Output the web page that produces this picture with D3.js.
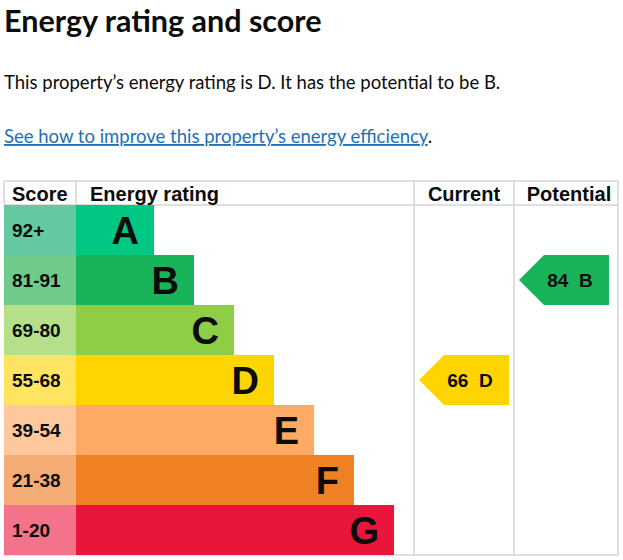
<!DOCTYPE html>
<html>
<head>
<meta charset="utf-8">
<script src="https://cdn.jsdelivr.net/npm/d3@7"></script>
<style>
  body { margin: 0; background: #fff; }
  svg { display: block; }
</style>
</head>
<body>
<svg id="chart"></svg>
<script>
// rating bands, top (best) to bottom
let ratings = ["A", "B", "C", "D", "E", "F", "G"]
let scoreRanges = ["92+", "81-91", "69-80", "55-68", "39-54", "21-38", "1-20"]
let lowerBounds = [92, 81, 69, 55, 39, 21, 1]
let barColors = ["#00c781", "#19b459", "#8dce46", "#ffd500", "#fcaa65", "#ef8023", "#e9153b"]
let scoreColors = ["#64c8a0", "#6fcb8b", "#b6df89", "#ffe462", "#fec89c", "#f5ac74", "#f3738a"]
let columns = ["Score", "Energy rating", "Current", "Potential"]
let currentScore = 66
let potentialScore = 84

let svgWidth = 623,
    svgHeight = 560

let svg = d3.select('#chart')
    .attr('width', svgWidth)
    .attr('height', svgHeight)

let font = "'Liberation Sans', Arial, sans-serif"
let headFont = "Lato, 'Noto Sans', sans-serif"

// HEADING + INTRO TEXT
svg.append('text')
    .attr('x', 4).attr('y', 32)
    .attr('font-family', headFont)
    .attr('font-weight', 700)
    .attr('font-size', 30.5)
    .attr('fill', '#0b0c0c')
    .text('Energy rating and score')

svg.append('text')
    .attr('x', 4).attr('y', 89)
    .attr('font-family', headFont)
    .attr('font-size', 18.5)
    .attr('fill', '#0b0c0c')
    .text('This property\u2019s energy rating is D. It has the potential to be B.')

let link = svg.append('text')
    .attr('x', 4).attr('y', 143)
    .attr('font-family', headFont)
    .attr('font-size', 18.5)
    .attr('fill', '#0b0c0c')
link.append('tspan')
    .attr('fill', '#1d70b8')
    .attr('text-decoration', 'underline')
    .text('See how to improve this property\u2019s energy efficiency')
link.append('tspan').text('.')

// TABLE SCALES
let tableTop = 181, headH = 24
let y = d3.scaleBand()
    .domain(ratings)
    .range([tableTop + headH, 555])

let colX = d3.scaleOrdinal()
    .domain(columns)
    .range([4, 76, 414, 514])
let tableRight = 618

// bar end grows with band index
let barEnd = d3.scaleLinear()
    .domain([0, ratings.length - 1])
    .range([154, 394])

let rows = ratings.map((r, i) => ({
    rating: r, range: scoreRanges[i], low: lowerBounds[i],
    bar: barColors[i], cell: scoreColors[i], i: i
}))

let bandOf = s => rows.find(d => s >= d.low)

// GRID LINES
let grid = svg.append('g')
    .attr('stroke', '#d4d4d4')
    .attr('stroke-width', 1.5)
grid.append('line')
    .attr('x1', 4).attr('x2', tableRight)
    .attr('y1', tableTop).attr('y2', tableTop)
grid.append('line')
    .attr('x1', 4).attr('x2', tableRight)
    .attr('y1', tableTop + headH).attr('y2', tableTop + headH)
grid.append('line')
    .attr('x1', 4).attr('x2', tableRight)
    .attr('y1', 555).attr('y2', 555)
grid.selectAll('.vline')
    .data([4, 76])
    .enter().append('line')
    .attr('x1', d => d).attr('x2', d => d)
    .attr('y1', tableTop).attr('y2', tableTop + headH)
grid.selectAll('.vline2')
    .data([colX('Current'), colX('Potential'), tableRight])
    .enter().append('line')
    .attr('x1', d => d).attr('x2', d => d)
    .attr('y1', tableTop).attr('y2', 555)

// HEADER LABELS
let headPos = [
    {t: 'Score', x: 12, a: 'start'},
    {t: 'Energy rating', x: 90, a: 'start'},
    {t: 'Current', x: (colX('Current') + colX('Potential')) / 2, a: 'middle'},
    {t: 'Potential', x: (colX('Potential') + tableRight) / 2 + 3, a: 'middle'}
]
svg.selectAll('.head')
    .data(headPos)
    .enter().append('text')
    .attr('x', d => d.x)
    .attr('y', tableTop + 20)
    .attr('text-anchor', d => d.a)
    .attr('font-family', font)
    .attr('font-weight', 700)
    .attr('font-size', 20)
    .attr('fill', '#0b0c0c')
    .text(d => d.t)

// ROWS
let row = svg.selectAll('.row')
    .data(rows)
    .enter().append('g')
    .attr('transform', d => `translate(0, ${y(d.rating)})`)

row.append('rect')
    .attr('x', colX('Score'))
    .attr('width', colX('Energy rating') - colX('Score'))
    .attr('height', y.bandwidth())
    .attr('fill', d => d.cell)

row.append('rect')
    .attr('x', colX('Energy rating'))
    .attr('width', d => barEnd(d.i) - colX('Energy rating'))
    .attr('height', y.bandwidth())
    .attr('fill', d => d.bar)

row.append('text')
    .attr('x', 12)
    .attr('y', y.bandwidth() / 2 + 7)
    .attr('font-family', font)
    .attr('font-weight', 700)
    .attr('font-size', 19)
    .attr('fill', '#0b0c0c')
    .text(d => d.range)

row.append('text')
    .attr('x', d => barEnd(d.i) - 15)
    .attr('y', y.bandwidth() / 2 + 14)
    .attr('text-anchor', 'end')
    .attr('font-family', font)
    .attr('font-weight', 700)
    .attr('font-size', 38)
    .attr('fill', '#0b0c0c')
    .text(d => d.rating)

// ARROWS
let arrows = [
    {score: currentScore, col: 'Current', right: 509},
    {score: potentialScore, col: 'Potential', right: 609}
]
let h = y.bandwidth()
let arrow = svg.selectAll('.arrow')
    .data(arrows)
    .enter().append('g')
    .attr('transform', d => `translate(0, ${y(bandOf(d.score).rating)})`)

arrow.append('path')
    .attr('d', d => {
        let tip = d.right - 90
        return `M${tip},${h / 2} L${tip + h / 2},0 L${d.right},0 L${d.right},${h} L${tip + h / 2},${h} Z`
    })
    .attr('fill', d => bandOf(d.score).bar)

arrow.append('text')
    .attr('x', d => d.right - 39)
    .attr('y', h / 2 + 7)
    .attr('text-anchor', 'middle')
    .attr('font-family', font)
    .attr('font-weight', 700)
    .attr('font-size', 19)
    .attr('fill', '#0b0c0c')
    .attr('xml:space', 'preserve')
    .text(d => `${d.score}  ${bandOf(d.score).rating}`)
</script>
</body>
</html>
